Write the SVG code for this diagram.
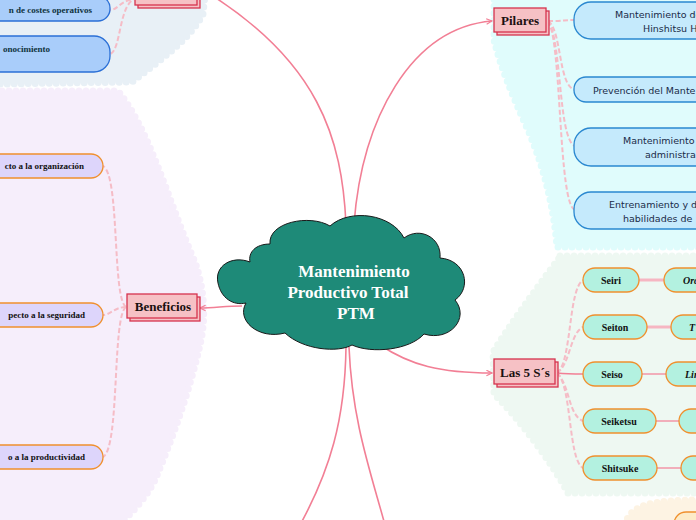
<svg xmlns="http://www.w3.org/2000/svg" width="696" height="520" viewBox="0 0 696 520">
<style>
.reg{stroke-width:7;stroke-dasharray:0 7;stroke-linecap:round;stroke-linejoin:round}
.main{fill:none;stroke:#f27f95;stroke-width:1.6}
.dash{fill:none;stroke:#f5bcc6;stroke-width:2;stroke-dasharray:5 2.5}
.box{fill:#f6c1c5;stroke:#d6334e;stroke-width:1.3}
.bt{font-family:"Liberation Serif",serif;font-weight:bold;font-size:13px;fill:#1a1010;text-anchor:middle}
.blue{fill:#a9cdfa;stroke:#2a6fd6;stroke-width:1.3}
.lav{fill:#ddd5fb;stroke:#f0902e;stroke-width:1.3}
.cy{fill:#c5eafc;stroke:#2a88d0;stroke-width:1.3}
.mint{fill:#b3f1e0;stroke:#f0902e;stroke-width:1.3}
.st{font-family:"Liberation Serif",serif;font-weight:bold;font-size:9px;fill:#111}
.tl{font-family:"Liberation Serif",serif;font-weight:bold;font-size:9px;fill:#0f3340;text-anchor:end}
.ss{font-family:"DejaVu Sans",sans-serif;font-size:9.5px;fill:#1a2a48}
.mt{font-family:"Liberation Serif",serif;font-weight:bold;font-size:10px;fill:#111;text-anchor:middle}
.it{font-family:"Liberation Serif",serif;font-weight:bold;font-style:italic;font-size:10px;fill:#111}
.ct{font-family:"Liberation Serif",serif;font-weight:bold;font-size:17px;fill:#ffffff;text-anchor:middle}
</style>
<defs>
<marker id="arr" viewBox="0 0 10 10" refX="9" refY="5" markerWidth="7" markerHeight="7" orient="auto" markerUnits="userSpaceOnUse">
<path d="M1,1 L9,5 L1,9" fill="none" stroke="#f27f95" stroke-width="1.6"/>
</marker>
</defs>
<rect width="696" height="520" fill="#ffffff"/>
<g id="regions">
<path class="reg" fill="#e8f0f6" stroke="#e8f0f6" d="M0,-5 L205,-5 L203,14 C 190,40 160,60 132,82 L0,84 Z"/>
<path class="reg" fill="#f6eefb" stroke="#f6eefb" d="M-5,91 L118,91 C 150,130 168,200 195,262 C 205,290 206,320 200,345 C 190,390 172,440 155,480 C 145,500 130,515 118,525 L-5,525 Z"/>
<path class="reg" fill="#e0fcfc" stroke="#e0fcfc" d="M494,-5 L701,-5 L701,247 L557,247 C 554,210 545,170 528,130 C 512,95 500,65 494,40 Z"/>
<path class="reg" fill="#eef8f2" stroke="#eef8f2" d="M560,256 L701,256 L701,493 L568,493 C 550,460 520,420 494,394 L493,352 C 510,325 535,290 560,257 Z"/>
<path class="reg" fill="#fdf3e3" stroke="#fdf3e3" d="M625,525 C 630,505 650,500 701,500 L701,525 Z"/>
</g>
<g id="connectors">
<path class="main" d="M346,224 C 342,140 320,60 200,-12"/>
<path class="main" d="M354,224 C 362,120 410,28 492,21" marker-end="url(#arr)"/>
<path class="main" d="M242,306 C 225,306 215,308 200,308" marker-end="url(#arr)"/>
<path class="main" d="M380,345 C 410,365 440,373 492,373" marker-end="url(#arr)"/>
<path class="main" d="M346,347 C 345,420 330,470 300,525"/>
<path class="main" d="M349,347 C 352,420 370,470 385,525"/>
<path class="dash" d="M138,-2 C 120,0 118,10 110,10"/>
<path class="dash" d="M138,-2 C 118,0 122,50 110,54"/>
<path class="dash" d="M126,307 C 112,298 120,175 103,166"/>
<path class="dash" d="M126,307 C 115,307 110,315 103,315"/>
<path class="dash" d="M126,307 C 112,316 120,448 103,457"/>
<path class="dash" d="M548,21 C 562,21 565,20 575,20"/>
<path class="dash" d="M548,21 C 562,30 558,86 575,90"/>
<path class="dash" d="M548,21 C 562,40 558,140 575,146"/>
<path class="dash" d="M548,21 C 562,40 558,205 575,210"/>
<path class="dash" d="M557,373 C 572,362 568,290 583,280"/>
<path class="dash" d="M557,373 C 570,365 570,333 583,327"/>
<path class="main" d="M557,373 C 567,374 575,374 583,374"/>
<path class="dash" d="M557,373 C 570,385 568,415 583,421"/>
<path class="dash" d="M557,373 C 572,385 568,460 583,468"/>
<line x1="639" y1="280" x2="664" y2="280" stroke="#f6b6c2" stroke-width="3"/>
<line x1="647" y1="327" x2="671" y2="327" stroke="#f6b6c2" stroke-width="3"/>
<line x1="642" y1="374" x2="666" y2="374" stroke="#f28ea2" stroke-width="1.4"/>
<line x1="656" y1="421" x2="679" y2="421" stroke="#f28ea2" stroke-width="1.4"/>
<line x1="657" y1="468" x2="681" y2="468" stroke="#f28ea2" stroke-width="1.4"/>
</g>
<g id="center">
<path d="M 250,262 C 232,255 214,266 218,283 C 221,298 233,306 246,303 C 236,320 258,340 285,333 C 303,350 338,353 352,345 C 372,354 410,350 424,334 C 450,342 470,318 455,300 C 472,288 466,260 440,258 C 442,238 420,226 404,238 C 392,214 350,208 330,226 C 310,214 268,222 270,244 C 256,244 248,252 250,262 Z" fill="#1e8a78" stroke="#1a1a1a" stroke-width="1"/>
<text class="ct" x="354" y="277">Mantenimiento</text>
<text class="ct" x="348" y="298">Productivo Total</text>
<text class="ct" x="356" y="319">PTM</text>
</g>
<g id="topic-top">
<rect class="box" x="138" y="-17" width="62" height="25"/>
<rect class="box" x="135" y="-20" width="62" height="25"/>
</g>
<g id="pill-costes">
<rect class="blue" x="-30" y="-4" width="140" height="25" rx="12"/>
<text class="tl" x="92" y="13">n de costes operativos</text>
</g>
<g id="pill-conocimiento">
<rect class="blue" x="-30" y="36" width="140" height="36" rx="16"/>
<text class="tl" x="50" y="52">onocimiento</text>
</g>
<g id="beneficios">
<rect class="box" x="130" y="297" width="70" height="24"/>
<rect class="box" x="127" y="294" width="70" height="24"/>
<text class="bt" x="163" y="311">Beneficios</text>
</g>
<g id="ben-org">
<rect class="lav" x="-30" y="154" width="133" height="24" rx="12"/>
<text class="st" x="84" y="169" text-anchor="end">cto a la organización</text>
</g>
<g id="ben-seg">
<rect class="lav" x="-30" y="303" width="133" height="24" rx="12"/>
<text class="st" x="85" y="318" text-anchor="end">pecto a la seguridad</text>
</g>
<g id="ben-prod">
<rect class="lav" x="-30" y="445" width="133" height="24" rx="12"/>
<text class="st" x="85" y="460" text-anchor="end">o a la productividad</text>
</g>
<g id="pilares">
<rect class="box" x="497" y="11" width="52" height="24"/>
<rect class="box" x="494" y="8" width="52" height="24"/>
<text class="bt" x="520" y="25">Pilares</text>
</g>
<g id="pil-1">
<rect class="cy" x="574" y="2" width="160" height="37" rx="17"/>
<text class="ss" x="615" y="18">Mantenimiento de</text>
<text class="ss" x="643" y="32">Hinshitsu H</text>
</g>
<g id="pil-2">
<rect class="cy" x="574" y="77" width="160" height="25" rx="12"/>
<text class="ss" x="593" y="94">Prevención del Mante</text>
</g>
<g id="pil-3">
<rect class="cy" x="574" y="128" width="160" height="38" rx="17"/>
<text class="ss" x="623" y="144">Mantenimiento</text>
<text class="ss" x="645" y="158">administra</text>
</g>
<g id="pil-4">
<rect class="cy" x="574" y="192" width="160" height="37" rx="17"/>
<text class="ss" x="609" y="208">Entrenamiento y d</text>
<text class="ss" x="623" y="222">habilidades de</text>
</g>
<g id="las5s">
<rect class="box" x="497" y="362" width="61" height="25"/>
<rect class="box" x="494" y="359" width="61" height="25"/>
<text class="bt" x="525" y="377">Las 5 S´s</text>
</g>
<g id="seiri">
<rect class="mint" x="583" y="268" width="56" height="24" rx="12"/>
<text class="mt" x="611" y="284">Seiri</text>
</g>
<g id="seiton">
<rect class="mint" x="583" y="315" width="64" height="24" rx="12"/>
<text class="mt" x="615" y="331">Seiton</text>
</g>
<g id="seiso">
<rect class="mint" x="583" y="362" width="59" height="24" rx="12"/>
<text class="mt" x="612" y="378">Seiso</text>
</g>
<g id="seiketsu">
<rect class="mint" x="583" y="409" width="73" height="24" rx="12"/>
<text class="mt" x="619" y="425">Seiketsu</text>
</g>
<g id="shitsuke">
<rect class="mint" x="583" y="456" width="74" height="24" rx="12"/>
<text class="mt" x="620" y="472">Shitsuke</text>
</g>
<g id="s1-desc">
<rect class="mint" x="664" y="268" width="70" height="24" rx="12"/>
<text class="it" x="683" y="284">Ord</text>
</g>
<g id="s2-desc">
<rect class="mint" x="671" y="315" width="70" height="24" rx="12"/>
<text class="it" x="689" y="331">T</text>
</g>
<g id="s3-desc">
<rect class="mint" x="666" y="362" width="70" height="24" rx="12"/>
<text class="it" x="685" y="378">Lim</text>
</g>
<g id="s4-desc">
<rect class="mint" x="679" y="409" width="70" height="24" rx="12"/>
</g>
<g id="s5-desc">
<rect class="mint" x="681" y="456" width="70" height="24" rx="12"/>
</g>
<g id="peach-node">
<rect x="674" y="512" width="70" height="26" rx="12" fill="#fdebc8" stroke="#f0902e" stroke-width="1.3"/>
</g>
</svg>
